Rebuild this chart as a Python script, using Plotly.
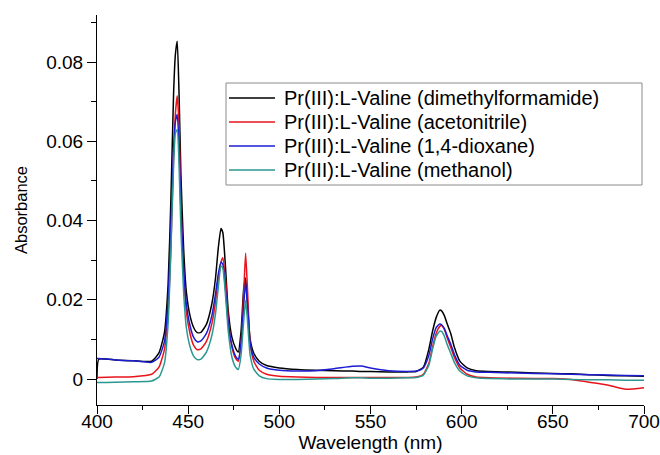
import plotly.graph_objects as go

wavelength = [400, 401, 410, 420, 430, 434, 437, 439, 440.5, 442, 443, 444, 445, 446, 447.5, 449, 451, 453, 455, 457,
              460, 463, 465, 466.5, 468, 469, 470.5, 472, 474, 476, 477.5, 479, 480.5, 481.5, 482.5, 484, 486, 489, 493,
              500, 510, 520, 530, 540, 545, 550, 560, 570, 575, 579, 582, 584, 586, 588, 589, 590.5, 592, 594, 596, 599,
              603, 608, 615, 630, 650, 660, 670, 680, 690, 700]

dmf = [0.0000, 0.0050, 0.0048, 0.0046, 0.0045, 0.0066, 0.0118, 0.0240, 0.0450, 0.0720, 0.0820, 0.0853, 0.0720, 0.0520,
       0.0330, 0.0220, 0.0160, 0.0130, 0.0117, 0.0118, 0.0138, 0.0190, 0.0255, 0.0330, 0.0380, 0.0370, 0.0280, 0.0170,
       0.0105, 0.0078, 0.0068, 0.0120, 0.0230, 0.0255, 0.0190, 0.0100, 0.0065, 0.0045, 0.0034, 0.0028, 0.0024, 0.0022,
       0.0021, 0.0020, 0.0019, 0.0019, 0.0018, 0.0018, 0.0019, 0.0030, 0.0075, 0.0120, 0.0155, 0.0174, 0.0172, 0.0160,
       0.0140, 0.0115, 0.0080, 0.0045, 0.0028, 0.0021, 0.0019, 0.0017, 0.0014, 0.0013, 0.0011, 0.0009, 0.0008, 0.0007]

acetonitrile = [0.0004, 0.0004, 0.0005, 0.0006, 0.0012, 0.0030, 0.0075, 0.0170, 0.0330, 0.0560, 0.0670, 0.0715, 0.0640,
                0.0440, 0.0270, 0.0170, 0.0115, 0.0085, 0.0074, 0.0076, 0.0095, 0.0140, 0.0195, 0.0250, 0.0295, 0.0306,
                0.0250, 0.0150, 0.0080, 0.0052, 0.0045, 0.0090, 0.0220, 0.0318, 0.0230, 0.0090, 0.0045, 0.0022, 0.0012,
                0.0007, 0.0005, 0.0004, 0.0004, 0.0004, 0.0004, 0.0004, 0.0004, 0.0004, 0.0005, 0.0012, 0.0040, 0.0080,
                0.0115, 0.0133, 0.0135, 0.0125, 0.0105, 0.0080, 0.0055, 0.0028, 0.0012, 0.0005, 0.0003, 0.0002, 0.0001,
                -0.0001, -0.0008, -0.0015, -0.0026, -0.0022]

dioxane = [0.0052, 0.0052, 0.0048, 0.0046, 0.0042, 0.0055, 0.0095, 0.0200, 0.0380, 0.0580, 0.0650, 0.0668, 0.0590,
           0.0430, 0.0280, 0.0190, 0.0135, 0.0105, 0.0094, 0.0096, 0.0115, 0.0160, 0.0215, 0.0265, 0.0295, 0.0290,
           0.0225, 0.0140, 0.0085, 0.0058, 0.0050, 0.0090, 0.0190, 0.0243, 0.0190, 0.0090, 0.0055, 0.0038, 0.0028,
           0.0022, 0.0020, 0.0021, 0.0026, 0.0032, 0.0033, 0.0028, 0.0021, 0.0019, 0.0020, 0.0028, 0.0060, 0.0100,
           0.0130, 0.0139, 0.0137, 0.0127, 0.0110, 0.0088, 0.0062, 0.0035, 0.0022, 0.0018, 0.0017, 0.0015, 0.0013,
           0.0012, 0.0011, 0.0010, 0.0009, 0.0008]

methanol = [-0.0009, -0.0009, -0.0008, -0.0007, -0.0005, 0.0005, 0.0040, 0.0140, 0.0320, 0.0540, 0.0620, 0.0630, 0.0540,
            0.0380, 0.0220, 0.0130, 0.0082, 0.0058, 0.0049, 0.0050, 0.0068, 0.0110, 0.0165, 0.0230, 0.0285, 0.0280,
            0.0210, 0.0120, 0.0055, 0.0030, 0.0024, 0.0060, 0.0150, 0.0198, 0.0150, 0.0060, 0.0025, 0.0008, 0.0001,
            -0.0001, -0.0001, 0.0000, 0.0001, 0.0003, 0.0003, 0.0002, 0.0002, 0.0003, 0.0004, 0.0010, 0.0035, 0.0075,
            0.0108, 0.0121, 0.0120, 0.0108, 0.0088, 0.0065, 0.0042, 0.0020, 0.0008, 0.0003, 0.0001, 0.0000, 0.0000,
            -0.0001, -0.0002, -0.0002, -0.0003, -0.0003]

series_names = ["Pr(III):L-Valine (dimethylformamide)", "Pr(III):L-Valine (acetonitrile)",
                "Pr(III):L-Valine (1,4-dioxane)", "Pr(III):L-Valine (methanol)"]
series_values = [dmf, acetonitrile, dioxane, methanol]
series_colors = ["#000000", "#e8141c", "#1c1cd2", "#2a9890"]

W, H = 660, 455
ML, MR, MT, MB = 97, 16, 15, 50
PW, PH = W - ML - MR, H - MT - MB


def px(xp):
    return (xp - ML) / PW


def py(yp):
    return (H - MB - yp) / PH


font_family = "Liberation Sans, Arial, Helvetica, sans-serif"

fig = go.Figure()
for name, vals, col in zip(series_names, series_values, series_colors):
    fig.add_trace(go.Scatter(x=wavelength, y=vals, mode="lines", name=name,
                             line=dict(color=col, width=1.5, shape="spline", smoothing=0.5)))

# legend drawn as a box with line samples and text labels
shapes = [dict(type="rect", xref="paper", yref="paper", x0=px(226), x1=px(642), y0=py(185), y1=py(83),
               line=dict(color="#8a8a8a", width=1), fillcolor="white", layer="above")]
annotations = []
legend_rows = [98, 122, 146, 170]
for name, col, yrow in zip(series_names, series_colors, legend_rows):
    shapes.append(dict(type="line", xref="paper", yref="paper", x0=px(229), x1=px(275), y0=py(yrow), y1=py(yrow),
                       line=dict(color=col, width=1.5), layer="above"))
    annotations.append(dict(text=name, xref="paper", yref="paper", x=px(282), y=py(yrow), xanchor="left",
                            yanchor="middle", showarrow=False, font=dict(size=20, family=font_family, color="#000")))

fig.update_layout(
    width=W, height=H,
    margin=dict(l=ML, r=MR, t=MT, b=MB),
    paper_bgcolor="white", plot_bgcolor="white",
    font=dict(family=font_family, size=19, color="#000"),
    showlegend=False,
    shapes=shapes, annotations=annotations,
    xaxis=dict(range=[400, 700], tickvals=[400, 450, 500, 550, 600, 650, 700],
               ticks="outside", ticklen=8, tickwidth=1, tickcolor="#000",
               showline=True, linecolor="#000", linewidth=1, showgrid=False, zeroline=False,
               minor=dict(dtick=25, ticks="outside", ticklen=4, tickcolor="#000", showgrid=False),
               title=dict(text="Wavelength (nm)", font=dict(size=19), standoff=2),
               tickfont=dict(size=19), ticklabelstandoff=-9, automargin=False),
    yaxis=dict(range=[-0.00656, 0.0919], tickvals=[0, 0.02, 0.04, 0.06, 0.08],
               ticktext=["0", "0.02", "0.04", "0.06", "0.08"],
               ticks="outside", ticklen=9, tickwidth=1, tickcolor="#000",
               showline=True, linecolor="#000", linewidth=1, showgrid=False, zeroline=False,
               minor=dict(dtick=0.01, ticks="outside", ticklen=5, tickcolor="#000", showgrid=False),
               title=dict(text="Absorbance", font=dict(size=16.5), standoff=14),
               tickfont=dict(size=19), automargin=False),
)

fig.write_html("out.html", config={"displayModeBar": False},
               post_script="document.body.style.margin='0';document.body.style.overflow='hidden';")
